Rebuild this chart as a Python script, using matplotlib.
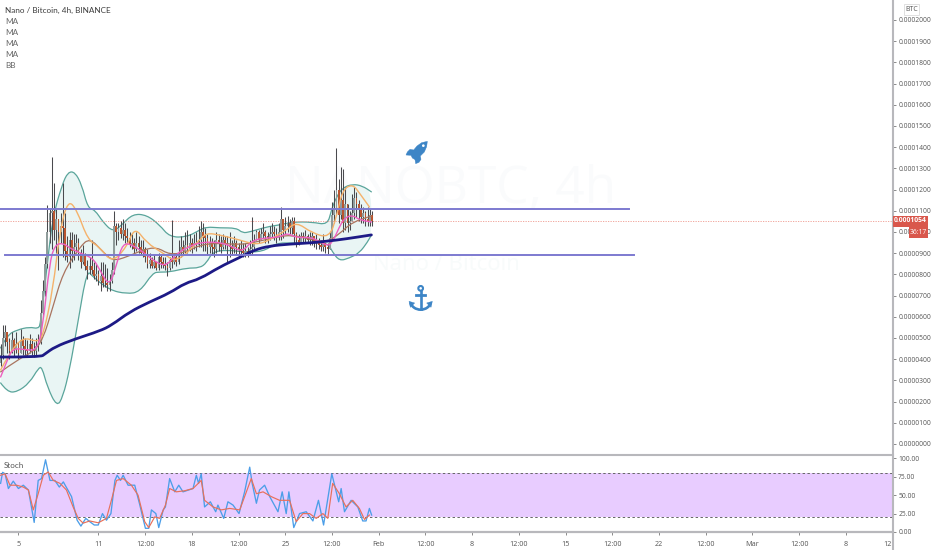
import matplotlib
matplotlib.use("Agg")
import matplotlib.pyplot as plt
from matplotlib.patches import Rectangle, Polygon, Circle, Arc, PathPatch
from matplotlib.path import Path
from matplotlib.lines import Line2D
from matplotlib.transforms import Bbox

plt.rcParams['font.family'] = ['Open Sans', 'DejaVu Sans']
LABEL_FONT = ['Lato', 'DejaVu Sans']

# Prices are in units of 1e-7 BTC; one candle every 4h
first_open = 380
candle_close = [420,500,530,480,440,490,450,470,430,490,460,450,440,470,450,440,460,480,
    620,720,850,1000,1090,1100,1010,1060,1000,1030,1020,910,880,960,910,930,950,900,860,890,840,820,
    840,820,790,800,770,790,760,760,750,770,820,1030,1000,1020,990,1010,980,970,940,950,920,950,930,900,920,880,850,870,840,860,830,880,860,850,840,830,870,860,880,860,
    900,930,910,940,920,950,930,950,940,960,1000,980,970,930,950,930,920,960,950,930,960,950,940,930,920,950,930,920,910,900,910,900,920,930,960,1000,960,990,1000,980,970,990,
    1000,990,980,1000,1060,1010,1030,1040,1020,1050,990,960,950,980,970,980,960,970,980,950,960,940,930,950,930,920,970,1080,1110,1200,1080,1150,1040,1130,1040,1050,1090,1160,1130,1110,1070,1090,1060,1050,1080,1054]
candle_high = [470,561,560,530,500,530,500,530,480,540,510,500,490,520,500,480,500,520,
    680,773,880,1127,1110,1353,1231,1110,1050,1090,1231,1090,980,1000,1000,990,990,970,920,940,900,870,
    880,960,860,850,820,860,860,850,830,800,860,1100,1040,1040,1050,1060,1040,1020,1000,990,970,1000,980,960,960,930,920,900,880,890,860,900,890,880,880,860,880,1056,900,890,
    960,980,960,1000,1010,990,970,990,1000,1030,1050,1040,1020,990,980,970,960,1000,990,980,990,980,980,1000,960,980,960,950,960,950,950,930,960,1070,990,1010,1010,1020,1040,1010,1000,1030,
    1040,1030,1020,1040,1118,1060,1070,1075,1060,1070,1070,1000,990,1000,1000,1010,990,1000,1000,980,990,970,960,990,950,950,1000,1140,1198,1396,1250,1306,1297,1210,1130,1100,1180,1210,1190,1150,1130,1120,1100,1116,1110,1100]
candle_low = [370,400,460,430,400,430,410,430,400,430,420,410,410,430,420,410,420,440,
    470,600,700,830,950,920,960,900,821,950,880,870,860,830,860,870,900,870,830,850,820,780,
    800,800,780,770,750,720,740,740,720,720,760,800,940,960,970,960,950,950,930,920,900,910,900,890,880,860,830,830,830,830,820,820,830,830,820,790,820,830,850,840,
    850,880,890,900,900,910,900,920,910,930,930,910,910,890,900,890,880,900,910,900,920,920,860,880,890,900,890,880,890,880,880,880,890,890,920,960,950,960,970,950,950,960,
    970,960,950,960,960,970,990,1000,990,990,950,930,940,950,950,950,950,940,940,930,920,920,910,910,900,890,920,960,1040,1080,1040,1060,1000,1010,1000,1010,1050,1060,1070,1050,1040,1040,1030,1030,1030,1030]

ma_slow_bar = [0,18,20,24.4,33.4,44.6,50,58,67,76,83,89.5,98.5,107,114,121,130,139,148,155,166.7]
ma_slow_val = [410,410,425,458,495,533,561,623,670,712,759,778,835,877,915,934,943,948,958,967,986]

bb_upper_bar = [0,3,7.4,13,17,18,21,23.5,27.6,30.3,33.4,36.5,39.2,42.4,46,50.5,54.5,59.4,65.7,71.5,76,83.7,89.5,92.6,98.5,106,108.8,112,119.6,125.4,131.2,140,147,148.7,151,153.7,158.2,162.7,166.7]
bb_upper_val = [453,514,538,552,543,571,853,1071,1222,1283,1283,1222,1113,1104,1047,1000,1033,1085,1080,1033,976,976,1009,1024,1019,1019,995,1000,1024,1033,1047,1047,1033,1104,1165,1208,1226,1217,1189]
bb_lower_bar = [0,3,7.4,13,17,18.6,21,25.3,28,31,34.7,38.8,41.5,49,56.7,62.6,68.4,71.5,76,83.7,89.5,92.6,95.3,101.6,108.8,117.8,124,131.2,140,147,149.2,152.3,156.8,161.3,165,166.7]
bb_lower_val = [288,245,245,288,358,363,269,175,222,349,571,821,788,726,708,717,807,811,811,830,830,854,906,915,906,906,948,948,948,948,906,863,877,901,953,986]

ma_pink_bar = [0,3,5.6,12,16.3,19,22,24.4,28,31,35.6,41.5,44.6,49,52.3,55,59.4,65.7,70.2,74.7,79.2,86.4,89.5,94,99.8,104.3,108.8,113.3,119.6,125.4,129,133,140,145.6,148.7,152.3,154.6,158.2,161.3,166.7]
ma_pink_val = [316,396,453,443,443,552,853,939,948,925,901,877,821,741,854,948,939,892,854,840,901,939,948,953,948,929,906,962,972,976,995,972,976,939,939,1024,1066,1080,1057,1047]
ma_orange_bar = [0,4,10,16.3,19,23.5,26.7,30.3,34.3,39.2,44.6,50,56.7,60.3,65.7,72.9,79.2,89.5,92.6,98.5,107.5,115,121,128.5,133,140,147.8,151,153.7,158.2,161.3,165.8]
ma_orange_val = [349,429,505,481,505,726,1009,1151,1104,962,929,854,929,1024,948,901,854,962,995,986,962,939,962,1009,1047,995,972,1071,1198,1226,1184,1118]
ma_brown_bar = [0,7.4,14.5,19,23.5,28,35.6,40.1,46,50.5,56.7,63.9,70.2,76,83.7,89.5,98.5,107.5,115,124,131.2,140,147,152.3,158.2,166.7]
ma_brown_val = [340,396,434,491,646,807,929,972,906,863,882,915,929,892,906,939,948,939,953,976,986,962,953,991,1047,1075]

stoch_k_bar = [0,0.9,2,3.5,5.7,8,10.2,12.5,15.1,16.9,18.4,20.2,22.2,24.4,26.4,28.2,31.9,34.4,36.1,38.3,40.1,42.1,43.9,45.8,47.6,49.6,51.4,52.4,53.9,55.1,57.3,60.3,62.6,65.1,66.6,67.8,69.8,71.1,73.1,74.1,76,78.3,80.1,82,86.5,88,89,90.2,91.7,94.3,96.7,97.7,100.3,102.2,104.5,107.2,109.7,112,113.1,115,116.4,118.7,121,124.7,126.6,128.4,129.6,131.8,134.4,137.4,140.4,142.9,145.2,148.9,152,153.1,154.6,157.6,160.6,162.8,164.3,165.8,166.8]
stoch_k_val = [66,81,79,59,69,59,63.5,57,13,70,72.5,98,70,70,61,68,48,16,8,18.5,14,9.5,9.5,25,16,25,70,77,70,77,63.5,63.5,36.5,5,5,30,25,6,30,34,72.5,54.5,63.5,54.5,59,77,66,79,34,41,27.5,36.5,18.5,41,36.5,25,54.5,88,66,39,57,63.5,48,27.5,54.5,25,54.5,6,25,27.5,15,43,9.5,79,41,59,27.5,43,34,15,15,32,23]
stoch_d_bar = [0,2,4.2,7.2,10.2,12.5,14.7,16.9,19.2,21.4,23.7,26.7,29.6,32.6,34.9,37.1,40.1,43.9,47.6,49.8,52.1,55.1,58.8,61.8,64.8,66.6,69.3,71.5,74.1,76,79,82.8,86.5,90.2,91.7,95.5,99.2,103,107.5,109.7,112.7,115,118,121.7,125.4,129.9,132.9,135.9,138.9,141.9,144.9,147.1,149.3,152.3,155.3,158.3,161.3,163.6,165.8]
stoch_d_val = [77,79,63.5,63.5,61,57,30,52,77,81.5,70,66,57,34,18.5,12,15,12.5,18.5,43,70,72.5,63.5,50,14,6,20.5,18.5,36.5,59,54.5,56,59,70,43,34,30,32,30,48,72.5,52,54.5,48,43,43,14,25,25,18.5,25,18.5,66,52,34,43,32,17,23]

price_ticks = list(range(0, 2001, 100))
stoch_ticks = [0, 25, 50, 75, 100]
time_tick_bars = [8,44,65,86,107,128,149,170,191,212,233,254,275,296,317,338,359,380,401]
time_tick_labels = ['5','11','12:00','18','12:00','25','12:00','Feb','12:00','8','12:00','15','12:00','22','12:00','Mar','12:00','8','12:00']
line_high = 1106
line_low = 891
last_price = 1054

W, H = 932, 550
TXT = '#555555'
GREY = '#b8b8bc'
fig = plt.figure(figsize=(W/100, H/100), dpi=100, facecolor='white')

def pane(left, top, right, bottom):
    return fig.add_axes([left/W, 1-bottom/H, (right-left)/W, (bottom-top)/H])

def smooth_path(xs, ys):
    """Rounded rendering of a polyline (its points act as curve control points)."""
    verts = [(xs[0], ys[0])]
    codes = [Path.MOVETO]
    for i in range(1, len(xs)-1):
        verts += [(xs[i], ys[i]), ((xs[i]+xs[i+1])/2, (ys[i]+ys[i+1])/2)]
        codes += [Path.CURVE3, Path.CURVE3]
    verts.append((xs[-1], ys[-1]))
    codes.append(Path.LINETO)
    return Path(verts, codes)

def curve(a, xs, ys, color, lw, zorder):
    a.add_patch(PathPatch(smooth_path(xs, ys), fc='none', ec=color, lw=lw, zorder=zorder, capstyle='round'))

ax = pane(0, 0, 893, 455)
sx = pane(0, 455, 893, 532)
for a in (ax, sx):
    a.set_xlim(-0.27, 401.2)
    for s in a.spines.values():
        s.set_visible(False)
ax.set_ylim(-52, 2094)
sx.set_ylim(0, 104.5)

# Watermark
ax.text(0.505, 0.583, 'NANOBTC, 4h', transform=ax.transAxes, ha='center', va='center', fontsize=37,
        color='#fafbfc', zorder=0)
ax.text(0.5, 0.418, 'Nano / Bitcoin', transform=ax.transAxes, ha='center', va='center', fontsize=16,
        color='#f8fbfb', zorder=0)

# Bollinger band
band_x = bb_upper_bar + bb_lower_bar[::-1]
band_y = bb_upper_val + bb_lower_val[::-1]
ax.add_patch(PathPatch(smooth_path(band_x, band_y), fc='#e9f5f4', ec='none', lw=0, zorder=1))
curve(ax, bb_upper_bar, bb_upper_val, '#5aa59b', 0.9, 2)
curve(ax, bb_lower_bar, bb_lower_val, '#5aa59b', 0.9, 2)

# Candles
bars = list(range(len(candle_close)))
opens = [first_open] + candle_close[:-1]
ax.vlines(bars, candle_low, candle_high, color='#4a4a4e', lw=0.75, zorder=3)
body_colors = ['#8f9c9b' if c >= o else '#b9552f' for o, c in zip(opens, candle_close)]
ax.bar(bars, [abs(c-o) for o, c in zip(opens, candle_close)], bottom=[min(o, c) for o, c in zip(opens, candle_close)],
       width=0.8, color=body_colors, lw=0, zorder=4)

# Moving averages
curve(ax, ma_brown_bar, ma_brown_val, '#a9745f', 0.9, 5)
curve(ax, ma_orange_bar, ma_orange_val, '#f5b26b', 1.0, 5)
curve(ax, ma_pink_bar, ma_pink_val, '#ee5fc0', 1.0, 6)
curve(ax, ma_slow_bar, ma_slow_val, '#1d1a86', 2.0, 7)

# Drawn levels; each line spans its own stretch of the chart
ax.plot([-0.27, 282.5], [line_high, line_high], color='#7d7ad0', lw=1.4, zorder=8)
ax.plot([2, 284.7], [line_low, line_low], color='#7d7ad0', lw=1.4, zorder=8)
ax.axhline(last_price, color='#ef9a8f', lw=0.6, ls=(0, (1.5, 1.5)), zorder=2)

# Price axis
ax.yaxis.tick_right()
ax.set_yticks(price_ticks)
ax.set_yticklabels([f'{v*1e-7:.7f}' for v in price_ticks])
ax.tick_params(axis='y', length=2.2, width=0.6, color='#777777', labelsize=4.9, labelcolor=TXT, pad=1.5)
ax.set_xticks([])

# Stochastic pane
sx.axhspan(20, 80, color='#e8ccff', lw=0, zorder=1)
for lvl in (20, 80):
    sx.axhline(lvl, color='#666666', lw=0.7, ls=(0, (2.5, 2.5)), zorder=2)
sx.plot(stoch_k_bar, stoch_k_val, color='#4c9ee8', lw=0.95, zorder=3)
sx.plot(stoch_d_bar, stoch_d_val, color='#e8705a', lw=0.85, zorder=4)
sx.yaxis.tick_right()
sx.set_yticks(stoch_ticks)
sx.set_yticklabels([f'{v:.2f}' for v in stoch_ticks])
sx.tick_params(axis='y', length=2.2, width=0.6, color='#777777', labelsize=4.9, labelcolor=TXT, pad=1.5)
sx.set_xticks(time_tick_bars)
sx.set_xticklabels(time_tick_labels)
sx.tick_params(axis='x', length=2.2, width=0.6, color='#777777', labelsize=5.2, labelcolor=TXT, pad=4)
for lab in sx.get_xticklabels():
    lab.set_clip_on(True)
    lab.set_clip_box(Bbox([[0, 0], [893, H]]))

# Frame lines
fig.add_artist(Line2D([893/W]*2, [0, 1], color=GREY, lw=1.5))
fig.add_artist(Line2D([0, 893/W], [1-455/H]*2, color=GREY, lw=1.5))
fig.add_artist(Line2D([0, 893/W], [1-532/H]*2, color=GREY, lw=1.6))

# Labels, top left
fig.text(5/W, 1-10/H, 'Nano / Bitcoin, 4h, BINANCE', fontsize=5.9, color='#3c3c3c', va='center', family=LABEL_FONT)
for i, name in enumerate(['MA', 'MA', 'MA', 'MA', 'BB']):
    fig.text(5/W, 1-(21.5+11*i)/H, name, fontsize=5.9, color='#666666', va='center', family=LABEL_FONT)
fig.text(4/W, 1-465/H, 'Stoch', fontsize=5.8, color='#555555', va='center', family=LABEL_FONT)

# BTC box
fig.add_artist(Rectangle((904/W, 1-14.5/H), 15/W, 10/H, transform=fig.transFigure, fc='white', ec='#e0e0e0', lw=0.7))
fig.text(911.5/W, 1-9.5/H, 'BTC', fontsize=5.0, color=TXT, ha='center', va='center')

# Last price tags
fig.add_artist(Rectangle((893/W, 1-227/H), 35/W, 11.5/H, transform=fig.transFigure, fc='#d9574c', ec='none', zorder=10))
fig.text(910.5/W, 1-221/H, f'{last_price*1e-7:.7f}', fontsize=4.9, color='white', ha='center', va='center', fontweight='bold', zorder=11)
fig.add_artist(Rectangle((909/W, 1-238/H), 19/W, 11/H, transform=fig.transFigure, fc='#d9574c', ec='none', zorder=10))
fig.text(918.5/W, 1-232.5/H, '36:17', fontsize=4.9, color='white', ha='center', va='center', zorder=11)

# Icons, each in its own little canvas
ICON = '#3d85c6'
def icon_axes(x, y):
    a = fig.add_axes([x/W, 1-(y+50)/H, 50/W, 50/H], zorder=9)
    a.set_xlim(0, 150)
    a.set_ylim(150, 0)
    a.axis('off')
    a.patch.set_alpha(0)
    return a

rk = icon_axes(395, 130)
rk.add_patch(Polygon([(97,34),(80,38),(66,48),(56,60),(45,58),(37,66),(33,75),(48,76),(52,84),(60,89),(62,101),(72,97),(78,88),(76,78),(88,66),(95,50)],
                     closed=True, fc=ICON, ec=ICON, lw=0.3))
rk.add_patch(Circle((85, 47), 4, fc='white', ec='none'))

an = icon_axes(395, 280)
an.add_patch(Circle((77, 25), 7, fc='none', ec=ICON, lw=1.5))
an.plot([77, 77], [32, 88], color=ICON, lw=1.9)
an.plot([64, 90], [46, 46], color=ICON, lw=2.0)
an.add_patch(Arc((77, 62), 62, 54, theta1=10, theta2=170, ec=ICON, lw=1.9))
an.add_patch(Polygon([(42,64),(59,69),(46,82)], closed=True, fc=ICON, ec=ICON, lw=0.3))
an.add_patch(Polygon([(112,64),(95,69),(108,82)], closed=True, fc=ICON, ec=ICON, lw=0.3))

fig.savefig('out.png', dpi=100, facecolor='white')
